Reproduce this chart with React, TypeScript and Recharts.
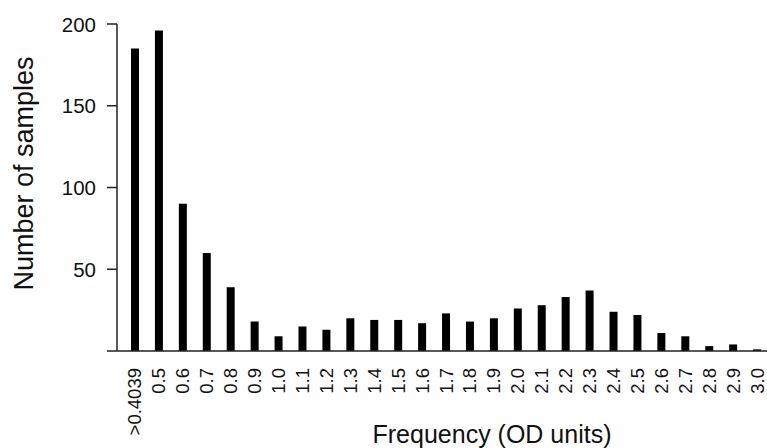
import { BarChart, Bar, XAxis, YAxis } from "recharts";

const categories = [
  ">0.4039", "0.5", "0.6", "0.7", "0.8", "0.9", "1.0", "1.1", "1.2", "1.3",
  "1.4", "1.5", "1.6", "1.7", "1.8", "1.9", "2.0", "2.1", "2.2", "2.3",
  "2.4", "2.5", "2.6", "2.7", "2.8", "2.9", "3.0",
];
const samples = [
  185, 196, 90, 60, 39, 18, 9, 15, 13, 20,
  19, 19, 17, 23, 18, 20, 26, 28, 33, 37,
  24, 22, 11, 9, 3, 4, 1,
];
const yTicks = [0, 50, 100, 150, 200];

const data = categories.map((c, i) => ({ name: c, value: samples[i] }));

const FONT = "'Liberation Sans', Arial, sans-serif";

const XTick = (props: any) => {
  const { x, y, payload } = props;
  return (
    <text
      x={x}
      y={y + 17}
      transform={`rotate(-90, ${x}, ${y + 17})`}
      textAnchor="end"
      dominantBaseline="central"
      fontSize={18.5}
      fontFamily={FONT}
      fill="#111"
    >
      {payload.value}
    </text>
  );
};

const YTick = (props: any) => {
  const { x, y, payload } = props;
  if (payload.value === 0) return null;
  return (
    <text
      x={x}
      y={y}
      textAnchor="end"
      dominantBaseline="central"
      fontSize={20.5}
      fontFamily={FONT}
      fill="#111"
    >
      {payload.value}
    </text>
  );
};

const YTitle = (props: any) => {
  const vb = props.viewBox;
  const cx = vb.x + 33;
  const cy = vb.y + vb.height / 2 - 14;
  return (
    <text
      x={cx}
      y={cy}
      transform={`rotate(-90, ${cx}, ${cy})`}
      textAnchor="middle"
      fontSize={27}
      fontFamily={FONT}
      fill="#111"
    >
      Number of samples
    </text>
  );
};

const XTitle = (props: any) => {
  const vb = props.viewBox;
  return (
    <text
      x={vb.x + vb.width / 2 + 49}
      y={vb.y + vb.height - 5}
      textAnchor="middle"
      fontSize={25}
      fontFamily={FONT}
      fill="#111"
    >
      Frequency (OD units)
    </text>
  );
};

export default function App() {
  return (
    <div style={{ position: "absolute", left: 0, top: 0, width: 767, height: 448, overflow: "hidden", background: "#fff" }}>
      <BarChart
        width={769}
        height={448}
        data={data}
        margin={{ top: 24, right: 0, bottom: 0, left: 0 }}
        barCategoryGap={0}
      >
        <XAxis
          dataKey="name"
          interval={0}
          height={97}
          tickLine={false}
          tickSize={0}
          tickMargin={0}
          padding={{ left: 6, right: 0 }}
          axisLine={{ stroke: "#222", strokeWidth: 1.5 }}
          tick={<XTick />}
          label={<XTitle />}
        />
        <YAxis
          width={117}
          domain={[0, 200]}
          ticks={yTicks}
          tickSize={10}
          tickMargin={11}
          axisLine={{ stroke: "#222", strokeWidth: 1.5 }}
          tickLine={{ stroke: "#222", strokeWidth: 1.5 }}
          tick={<YTick />}
          label={<YTitle />}
        />
        <Bar dataKey="value" fill="#000" barSize={8} isAnimationActive={false} />
      </BarChart>
    </div>
  );
}
